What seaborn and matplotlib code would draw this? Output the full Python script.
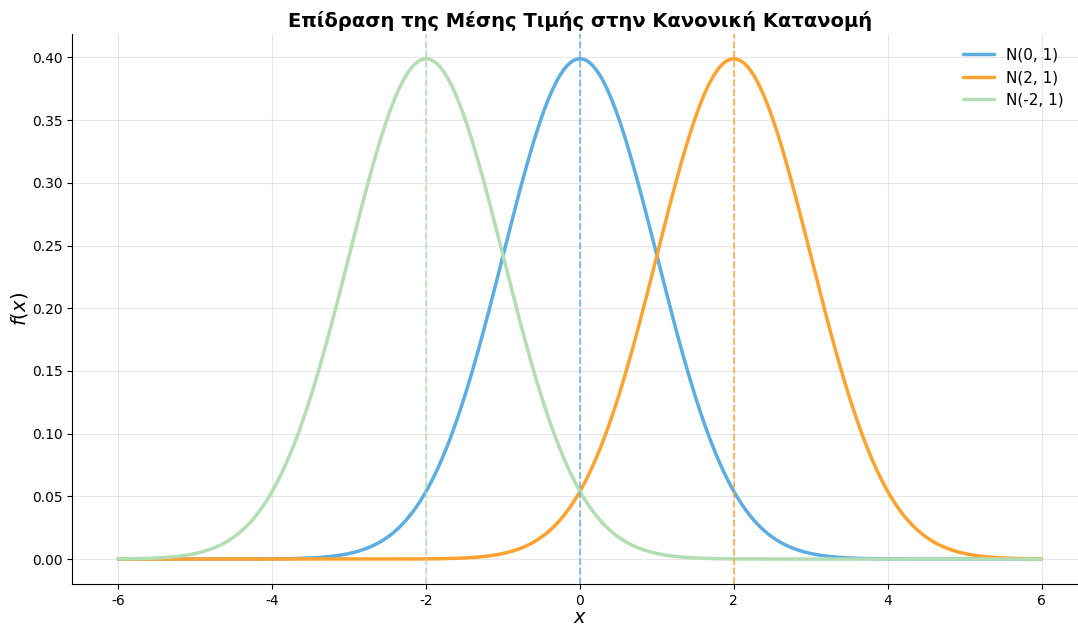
import numpy as np
import pandas as pd
import matplotlib
matplotlib.use("Agg")
import matplotlib.pyplot as plt
import seaborn as sns

sns.set_style("ticks", {'axes.edgecolor': 'black', 'text.color': 'black',
                        'xtick.color': 'black', 'ytick.color': 'black',
                        'axes.labelcolor': 'black'})
plt.rcParams['font.family'] = ['DejaVu Sans']
plt.rcParams['axes.unicode_minus'] = False

# Παράμετροι των κατανομών
mus = [0, 2, -2]
sigmas = [1, 1, 1]
labels = ['N(0, 1)', 'N(2, 1)', 'N(-2, 1)']
colors = ['#5DADE2', '#FFA230', '#B3DEB3']

x = np.linspace(-6, 6, 500)
frames = []
for mu, s, lab in zip(mus, sigmas, labels):
    y = np.exp(-0.5 * ((x - mu) / s) ** 2) / (s * np.sqrt(2 * np.pi))
    frames.append(pd.DataFrame({'x': x, 'y': y, 'dist': lab}))
df = pd.concat(frames, ignore_index=True)

fig, ax = plt.subplots(figsize=(10.78, 6.26), dpi=100)
sns.lineplot(data=df, x='x', y='y', hue='dist', hue_order=labels,
             palette=colors, linewidth=2.5, ax=ax)
for mu, c in zip(mus, colors):
    ax.axvline(mu, color=c, linestyle='--', linewidth=1.3, alpha=0.8)

ax.grid(True, color='#b0b0b0', alpha=0.3)
ax.set_xlim(-6.6, 6.6)
ax.set_title('Επίδραση της Μέσης Τιμής στην Κανονική Κατανομή',
             fontsize=14, fontweight='bold', pad=5)
ax.set_xlabel('$x$', fontsize=14, labelpad=0)
ax.set_ylabel('$f(x)$', fontsize=14, labelpad=1)
ax.tick_params(labelsize=10)
ax.legend(frameon=False, fontsize=11, loc='upper right',
          bbox_to_anchor=(0.99, 1.0))
sns.despine()
fig.subplots_adjust(left=0.067, right=1.009, bottom=0.067, top=0.946)
plt.savefig('out.png')
